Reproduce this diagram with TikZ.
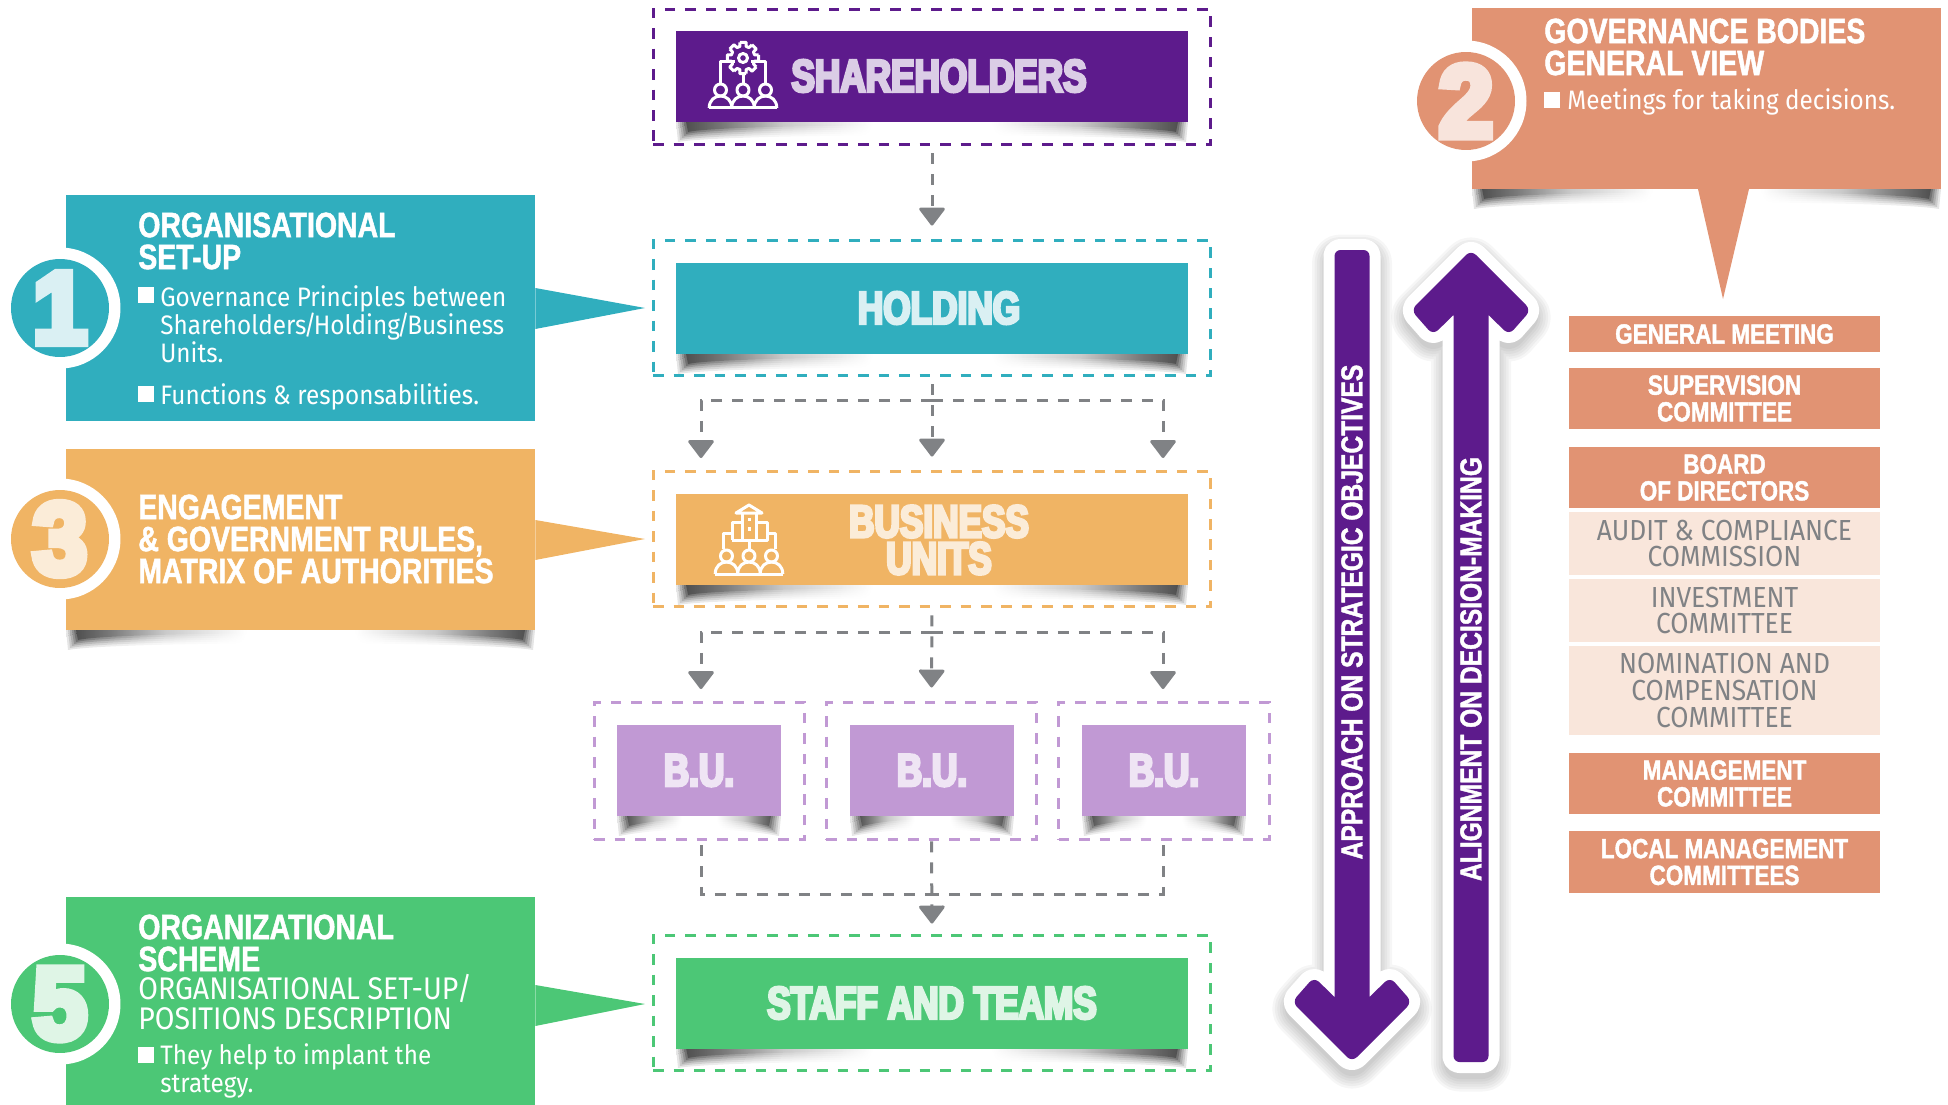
\documentclass[tikz,border=0pt]{standalone}
\usepackage{fontspec}
\usepackage{tikz}
\usetikzlibrary{arrows.meta, positioning, calc}
\newfontfamily\headfont[FakeStretch=0.81,FakeBold=1.4]{Liberation Sans Bold}
\newfontfamily\blockfont[FakeStretch=0.77,FakeBold=6]{Liberation Sans Bold}
\newfontfamily\numfont[FakeStretch=0.95,FakeBold=8]{Liberation Sans Bold}
\newfontfamily\bodyfont[FakeStretch=0.91]{Fira Sans}
\definecolor{purple1}{RGB}{93, 27, 140}
\definecolor{teal1}{RGB}{48, 174, 190}
\definecolor{amber1}{RGB}{240, 180, 100}
\definecolor{salmon1}{RGB}{225, 147, 115}
\definecolor{green1}{RGB}{76, 199, 118}
\definecolor{lilac1}{RGB}{193, 153, 212}
\definecolor{peach1}{RGB}{249, 230, 219}
\definecolor{flowgray}{RGB}{128, 130, 133}
\pgfdeclarehorizontalshading{curlfade}{100bp}{color(0bp)=(black); color(25bp)=(black); color(29bp)=(black!75); color(35bp)=(black!30); color(44bp)=(white); color(56bp)=(white); color(65bp)=(black!30); color(71bp)=(black!75); color(75bp)=(black); color(100bp)=(black)}
\tikzset{
  block/.style={draw=none, minimum width=10.24cm, minimum height=1.82cm, align=center, inner sep=0pt,
    font=\blockfont\fontsize{26}{21}\selectfont},
  frame/.style={draw=#1, line width=0.06cm, dash pattern=on 0.21cm off 0.2cm, minimum width=11.16cm, minimum height=2.72cm, inner sep=0pt},
  unitblock/.style={block, fill=lilac1, text=lilac1!25!white, minimum width=3.28cm},
  unitframe/.style={frame=lilac1, minimum width=4.22cm, minimum height=2.76cm},
  flowline/.style={flowgray, line width=0.06cm, dash pattern=on 0.22cm off 0.2cm},
  flowtip/.style={flowline, -{Triangle[length=0.38cm, width=0.56cm, round]}},
  headtxt/.style={anchor=west, text=white, align=left, inner sep=0pt,
    font=\headfont\fontsize{20}{18.2}\selectfont},
  bodytxt/.style={anchor=west, text=white, align=left, inner sep=0pt,
    font=\bodyfont\fontsize{15.2}{16}\selectfont},
  bullet/.style={fill=white, minimum size=0.32cm, inner sep=0pt},
  numring/.style={circle, fill=white, minimum size=2.42cm, inner sep=0pt},
  numdisc/.style={circle, fill=#1, minimum size=1.96cm, inner sep=0pt,
    font=\numfont\fontsize{58}{58}\selectfont},
  govrow/.style={fill=salmon1, text=white, minimum width=6.22cm, align=center, inner sep=0pt,
    font=\headfont\fontsize{15.8}{15.2}\selectfont},
  govsub/.style={govrow, fill=peach1, text=flowgray, font=\bodyfont\fontsize{16.5}{15.2}\selectfont},
  arrowtxt/.style={rotate=90, text=white, inner sep=0pt, font=\headfont\fontsize{17.3}{17}\selectfont},
  icon/.style={draw=white, line width=0.06cm, line join=round},
  pics/crowd/.style={code={
    \foreach \hx in {-22.5, 0, 22.5} {
      \draw[icon] (\hx,-18) circle[radius=6];
      \draw[icon] (\hx-11.3,0) .. controls (\hx-11.3,-16) and (\hx+11.3,-16) .. (\hx+11.3,0);
    }
    \draw[icon] (-33.8,0) -- (33.8,0);
  }}
}
% curled shadow under a box
\newcommand{\curlshadow}[3]{
  \foreach \blur/\tone in {10/.1, 8/.12, 6/.14, 4/.18, 2/.22, 0/.3} {
    \shade[shading=curlfade, opacity=\tone]
      (#1+10-\blur,#3) -- (#1+12-\blur,#3+10+\blur)
      .. controls (#1+50,#3+1+\blur) and (#2-50,#3+1+\blur) .. (#2-12+\blur,#3+10+\blur)
      -- (#2-10+\blur,#3) -- cycle;
  }
}
\def\approachpath{[rounded corners=0.12cm] (1352,250) -- (1369.5,250) [sharp corners] -- (1369.5,997) [rounded corners=0.14cm] -- (1390,977) -- (1412,1002) -- (1352,1062) -- (1292,1002) -- (1314,977) [sharp corners] -- (1334.5,997) [rounded corners=0.12cm] -- (1334.5,250) -- cycle}
\def\alignpath{[rounded corners=0.12cm] (1471,1062) -- (1453.5,1062) [sharp corners] -- (1453.5,315) [rounded corners=0.14cm] -- (1433,335) -- (1411,310) -- (1471,250) -- (1531,310) -- (1509,335) [sharp corners] -- (1488.5,315) [rounded corners=0.12cm] -- (1488.5,1062) -- cycle}

\begin{document}
\begin{tikzpicture}[x=0.02cm, y=-0.02cm]
  \useasboundingbox (0,0) rectangle (1948,1105);

  % Shareholders
  \node[frame=purple1] (shareframe) at (932,77) {};
  \curlshadow{676}{1188}{122}
  \node[block, fill=purple1, text=purple1!22!white] (sharebox) at (932,76.5) {};
  \node[block, text=purple1!22!white, minimum width=0] (sharelabel) at (939,76) {SHAREHOLDERS};
  \begin{scope}[shift={(743,108)}]
    \pic {crowd};
    \draw[icon] (-22.5,-24) -- (-22.5,-46) -- (-8,-46);
    \draw[icon] (22.5,-24) -- (22.5,-46) -- (8,-46);
    \draw[icon] (0,-24) -- (0,-34);
    \draw[icon] (0,-50) circle[radius=4.5];
    \foreach \a in {0,45,...,315} {
      \draw[icon, shift={(0,-50)}] (\a-11:16) -- (\a+11:16) -- (\a+15:12) -- (\a+30:12) -- (\a+34:16);
    }
  \end{scope}

  % Holding
  \node[frame=teal1] (holdframe) at (932,308) {};
  \curlshadow{676}{1188}{354}
  \node[block, fill=teal1] (holdbox) at (932,308.5) {};
  \node[block, text=teal1!18!white, minimum width=0] (holdlabel) at (939,308) {HOLDING};

  % Business units
  \node[frame=amber1] (buframe) at (932,539) {};
  \curlshadow{676}{1188}{585}
  \node[block, fill=amber1] (bubox) at (932,539.5) {};
  \node[block, text=amber1!25!white, minimum width=0] (bulabel) at (939,540) {BUSINESS\\UNITS};
  \begin{scope}[shift={(749,574)}]
    \pic {crowd};
    \draw[icon] (-26,-25) -- (-26,-41) -- (-17,-41);
    \draw[icon] (26,-25) -- (26,-41) -- (18,-41);
    \draw[icon] (0,-34) -- (0,-25);
    \draw[icon] (-7,-34) -- (-7,-61) (7,-34) -- (7,-61);
    \draw[icon] (-17,-34) -- (18,-34) -- (18,-52) -- (7,-52) (-7,-52) -- (-17,-52) -- (-17,-34);
    \draw[icon] (-13,-61) -- (0,-69) -- (13,-61) -- cycle;
    \draw[icon] (0,-56) -- (0,-53) (0,-47) -- (0,-43);
  \end{scope}

  % B.U. row
  \node[unitframe] (unita) at (699.5,771) {};
  \node[unitframe] (unitb) at (931.5,771) {};
  \node[unitframe] (unitc) at (1164,771) {};
  \curlshadow{617}{781}{816}
  \curlshadow{850}{1014}{816}
  \curlshadow{1082}{1246}{816}
  \node[unitblock] (unitboxa) at (699,770.5) {B.U.};
  \node[unitblock] (unitboxb) at (932,770.5) {B.U.};
  \node[unitblock] (unitboxc) at (1164,770.5) {B.U.};

  % Staff and teams
  \node[frame=green1] (staffframe) at (932,1003) {};
  \curlshadow{676}{1188}{1048}
  \node[block, fill=green1, text=green1!18!white] (staffbox) at (932,1003) {STAFF AND TEAMS};

  % Connectors
  \coordinate (holdsplit) at (932,400);
  \coordinate (bulefttip) at (701,458);
  \coordinate (burighttip) at (1163,458);
  \coordinate (busplit) at (932,632);
  \coordinate (staffsplit) at (932,894);
  \coordinate (unitatop) at (701,702);
  \coordinate (unitctop) at (1163,702);
  \coordinate (unitabase) at (701,845);
  \coordinate (unitcbase) at (1163,845);
  \draw[flowtip, shorten <=0.14cm, shorten >=0.26cm] (shareframe.south) -- (holdframe.north);
  \draw[flowtip, shorten <=0.14cm, shorten >=0.26cm] (holdframe.south) -- (buframe.north);
  \draw[flowtip] (holdsplit) -| (bulefttip);
  \draw[flowtip] (holdsplit) -| (burighttip);
  \draw[flowtip, shorten <=0.14cm, shorten >=0.26cm] (buframe.south) -- (unitb.north);
  \draw[flowtip, shorten >=0.26cm] (busplit) -| (unitatop);
  \draw[flowtip, shorten >=0.26cm] (busplit) -| (unitctop);
  \draw[flowtip, shorten >=0.2cm] (unitb.south) -- (staffframe.north);
  \draw[flowline] (unitabase) |- (staffsplit);
  \draw[flowline] (unitcbase) |- (staffsplit);

  % Organisational set-up
  \node[fill=teal1, minimum width=9.38cm, minimum height=4.52cm, inner sep=0pt] (setupbox) at (300.5,308) {};
  \fill[teal1] (setupbox.east |- 0,288) -- (645,308) -- (setupbox.east |- 0,329) -- cycle;
  \node[numring] (setupring) at (60,308) {};
  \node[numdisc=teal1, text=teal1!18!white] (setupnum) at (60,308) {1};
  \node[headtxt] (setuphead) at (138,241) {ORGANISATIONAL\\SET-UP};
  \node[bullet] (setupmarka) at (146,295) {};
  \node[bodytxt] (setuptexta) at (160,324) {Governance Principles between\\Shareholders\kern-1.5pt/\kern-1.5pt Holding\kern-1.5pt/\kern-1.5pt Business\\Units.};
  \node[bullet] (setupmarkb) at (146,394) {};
  \node[bodytxt] (setuptextb) at (160,397) {Functions \& responsabilities.};

  % Engagement
  \curlshadow{66}{535}{630}
  \node[fill=amber1, minimum width=9.38cm, minimum height=3.62cm, inner sep=0pt] (rulesbox) at (300.5,539.5) {};
  \fill[amber1] (rulesbox.east |- 0,520) -- (645,539) -- (rulesbox.east |- 0,560) -- cycle;
  \node[numring] (rulesring) at (60,539) {};
  \node[numdisc=amber1, text=amber1!25!white] (rulesnum) at (60,539) {3};
  \node[headtxt] (ruleshead) at (138,539) {ENGAGEMENT\\\& GOVERNMENT RULES,\\MATRIX OF AUTHORITIES};

  % Organizational scheme
  \node[fill=green1, minimum width=9.38cm, minimum height=4.16cm, inner sep=0pt] (schemebox) at (300.5,1001) {};
  \fill[green1] (schemebox.east |- 0,985) -- (645,1004) -- (schemebox.east |- 0,1026) -- cycle;
  \node[numring] (schemering) at (60,1004) {};
  \node[numdisc=green1, text=green1!18!white] (schemenum) at (60,1004) {5};
  \node[headtxt] (schemehead) at (138,943) {ORGANIZATIONAL\\SCHEME};
  \node[bodytxt, font=\bodyfont\fontsize{17.8}{17}\selectfont] (schemesub) at (138,1002) {ORGANISATIONAL SET-UP/\\POSITIONS DESCRIPTION};
  \node[bullet] (schememark) at (146,1055) {};
  \node[bodytxt] (schemetext) at (160,1070.5) {They help to implant the\\strategy.};

  % Governance bodies
  \curlshadow{1472}{1941}{189}
  \node[fill=salmon1, minimum width=9.38cm, minimum height=3.62cm, inner sep=0pt] (bodiesbox) at (1706.5,98.5) {};
  \fill[salmon1] (1698,189) -- (1723,299) -- (1749,189) -- cycle;
  \node[numring] (bodiesring) at (1466,101) {};
  \node[numdisc=salmon1, text=salmon1!25!white] (bodiesnum) at (1466,101) {2};
  \node[headtxt] (bodieshead) at (1544,47) {GOVERNANCE BODIES\\GENERAL VIEW};
  \node[bullet] (bodiesmark) at (1552,100) {};
  \node[bodytxt] (bodiestext) at (1567,102) {Meetings for taking decisions.};

  % Committees
  \node[govrow, minimum height=0.74cm] (genmeeting) at (1724.5,334) {GENERAL MEETING};
  \node[govrow, minimum height=1.22cm] (supervision) at (1724.5,398.5) {SUPERVISION\\COMMITTEE};
  \node[govrow, minimum height=1.22cm] (board) at (1724.5,477.5) {BOARD\\OF DIRECTORS};
  \node[govsub, minimum height=1.26cm] (audit) at (1724.5,543.5) {AUDIT \& COMPLIANCE\\COMMISSION};
  \node[govsub, minimum height=1.26cm] (investment) at (1724.5,610.5) {INVESTMENT\\COMMITTEE};
  \node[govsub, minimum height=1.78cm] (nomination) at (1724.5,690.5) {NOMINATION AND\\COMPENSATION\\COMMITTEE};
  \node[govrow, minimum height=1.22cm] (management) at (1724.5,783.5) {MANAGEMENT\\COMMITTEE};
  \node[govrow, minimum height=1.24cm] (localmgmt) at (1724.5,862) {LOCAL MANAGEMENT\\COMMITTEES};

  % Big arrows
  \foreach \wid in {0.9,0.8,...,0.4} {
    \draw[black, opacity=0.035, line width=\wid cm, line join=round, yshift=-0.14cm] \approachpath;
    \draw[black, opacity=0.035, line width=\wid cm, line join=round, yshift=-0.14cm] \alignpath;
  }
  \draw[white, line width=0.44cm, line join=round] \approachpath;
  \fill[purple1] \approachpath;
  \draw[white, line width=0.44cm, line join=round] \alignpath;
  \fill[purple1] \alignpath;
  \node[arrowtxt] (approachlabel) at (1352,612) {APPROACH ON STRATEGIC OBJECTIVES};
  \node[arrowtxt] (alignlabel) at (1471,669) {ALIGNMENT ON DECISION-MAKING};
\end{tikzpicture}
\end{document}
